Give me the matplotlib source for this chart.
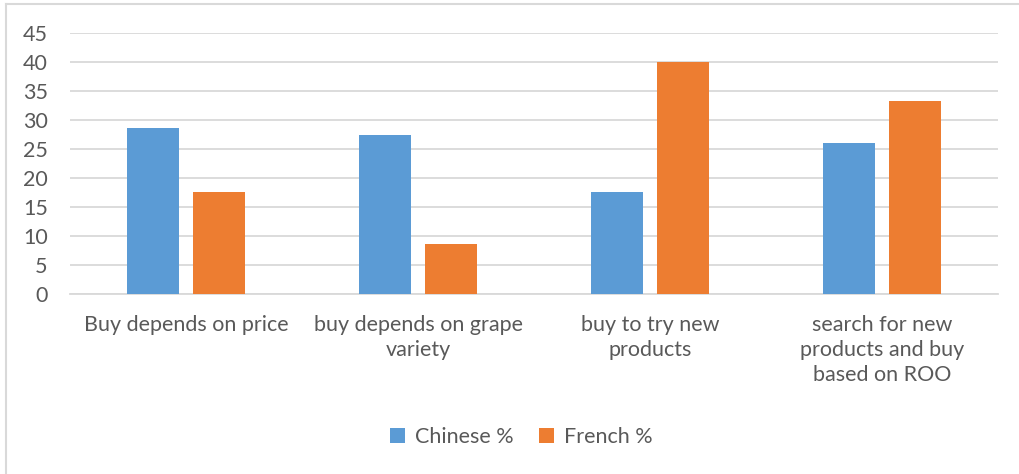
import numpy as np
import matplotlib.pyplot as plt
from matplotlib.lines import Line2D

categories = ["Buy depends on price", "buy depends on grape\nvariety",
              "buy to try new\nproducts", "search for new\nproducts and buy\nbased on ROO"]
chinese = [28.7, 27.5, 17.7, 26.0]
french = [17.7, 8.7, 40.0, 33.4]

plt.rcParams["font.family"] = ["Lato", "DejaVu Sans"]
text_color = "#595959"

fig = plt.figure(figsize=(10.2, 4.74), dpi=100)
ax = fig.add_axes([70 / 1020, 0.379, 928 / 1020, 0.551])

x = np.arange(len(categories))
w = 0.224
off = 0.142
ax.bar(x - off, chinese, w, color="#5B9BD5", label="Chinese %", zorder=3)
ax.bar(x + off, french, w, color="#ED7D31", label="French %", zorder=3)

ax.set_xlim(-0.5, len(categories) - 0.5)
ax.set_ylim(0, 45)
ax.set_yticks(range(0, 50, 5))
ax.yaxis.grid(True, color="#D9D9D9", linewidth=1.3, zorder=0)
ax.set_axisbelow(True)
for s in ["top", "right", "left"]:
    ax.spines[s].set_visible(False)
ax.spines["bottom"].set_color("#D9D9D9")
ax.spines["bottom"].set_linewidth(1.3)
ax.tick_params(axis="both", length=0, colors=text_color)
ax.tick_params(axis="y", pad=16, labelsize=15.5)
ax.tick_params(axis="x", pad=15, labelsize=15.5)
ax.set_xticks(x)
ax.set_xticklabels(categories, linespacing=1.3)

leg = fig.legend(loc="center", bbox_to_anchor=(0.511, 0.078), ncol=2, frameon=False,
                 fontsize=15.5, handlelength=0.7, handleheight=0.7, handletextpad=0.45,
                 columnspacing=1.2)
for t in leg.get_texts():
    t.set_color(text_color)

# chart area border (left and top edges)
fig.add_artist(Line2D([6 / 1020, 6 / 1020], [0, 1 - 4 / 474], transform=fig.transFigure,
                      color="#D9D9D9", linewidth=1.5))
fig.add_artist(Line2D([6 / 1020, 1], [1 - 4 / 474, 1 - 4 / 474], transform=fig.transFigure,
                      color="#D9D9D9", linewidth=1.5))

fig.savefig("out.png", dpi=100, facecolor="white")
